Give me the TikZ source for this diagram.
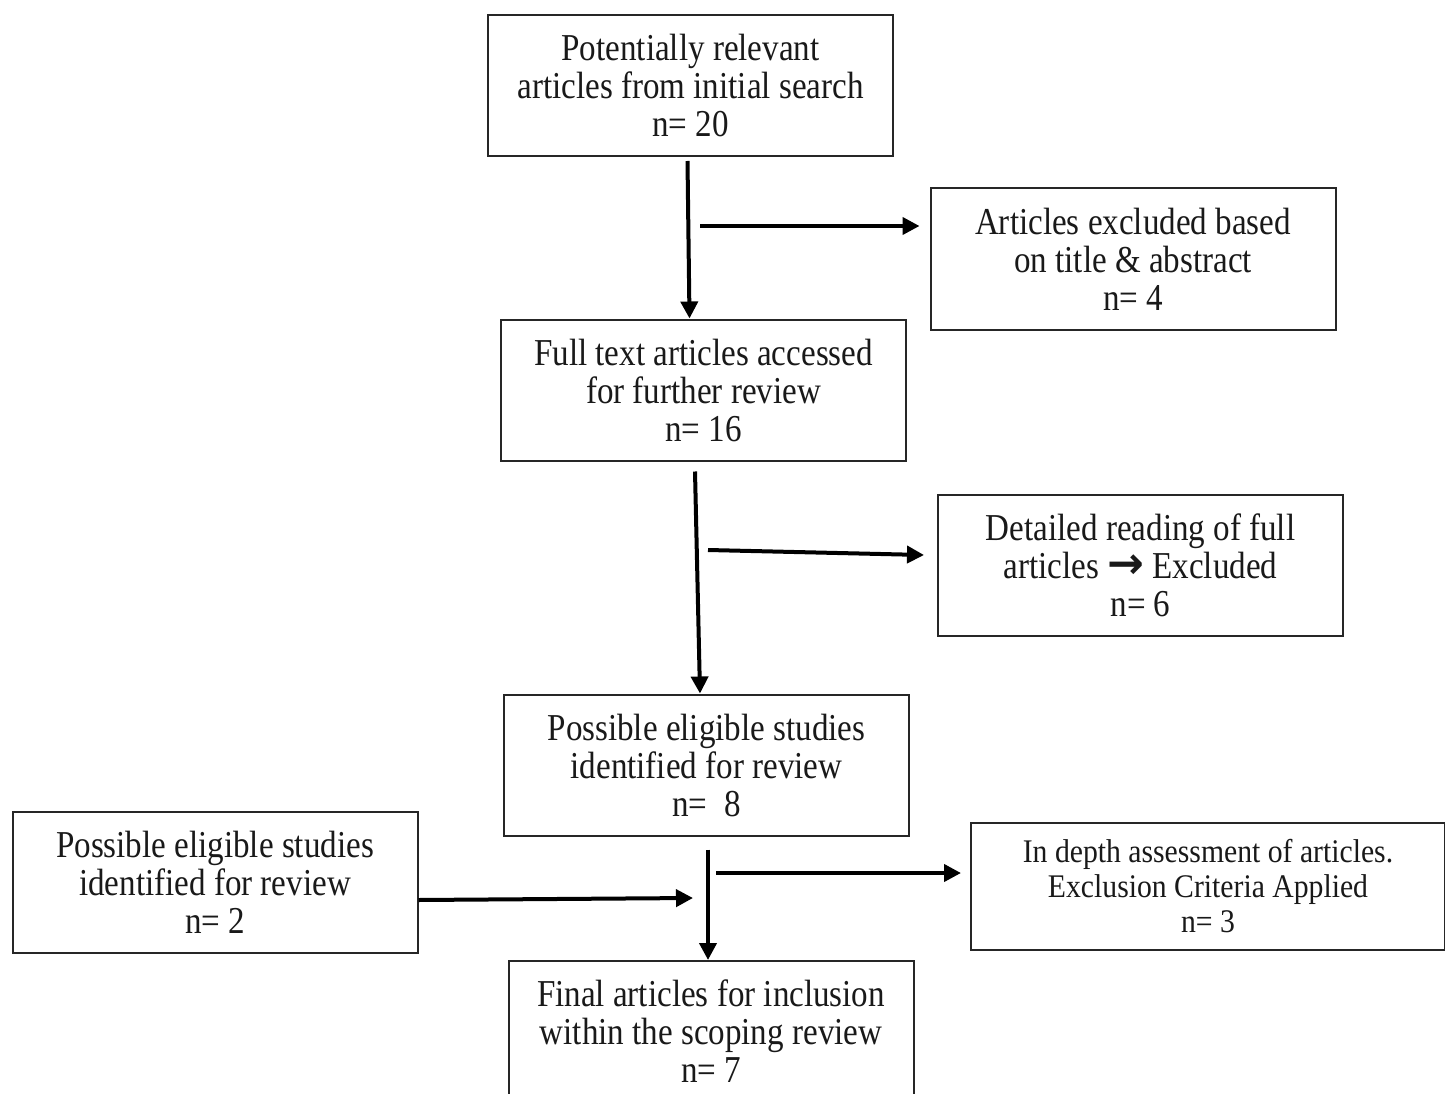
\documentclass[tikz,border=0pt]{standalone}
\usepackage{fontspec}
\usetikzlibrary{arrows.meta,calc}
\newfontfamily\boxfont{Liberation Serif}[FakeStretch=0.87]
\newfontfamily\smallboxfont{Liberation Serif}[FakeStretch=0.9]
\newfontfamily\arrowfont{DejaVu Sans}
\begin{document}
\begin{tikzpicture}[x=1pt,y=-1pt,
  box/.style={draw=black!85,line width=2pt,minimum width=405pt,minimum height=141pt,
    inner sep=0pt,align=center,font=\boxfont\fontsize{38}{38}\selectfont,text=black!90},
  smallbox/.style={box,minimum width=474pt,minimum height=127pt,
    font=\smallboxfont\fontsize{33}{35}\selectfont},
  arr/.style={line width=4pt,-{Triangle[length=17pt,width=17pt]}}]
\useasboundingbox (0,0) rectangle (1445,1094);
\clip (0,0) rectangle (1445,1094);
\fill[white] (0,0) rectangle (1445,1094);

\node[box] (top) at (690.5,85.5) {Potentially relevant\\articles from initial search\\n= 20};
\node[box] (excl) at (1133,259) {Articles excluded based\\on title \& abstract\\n= 4};
\node[box] (full) at (703.5,390) {Full text articles accessed\\for further review\\n= 16};
\node[box] (det) at (1140.5,565.5) {Detailed reading of full\\articles {\arrowfont\bfseries\fontsize{44}{38}\selectfont →} Excluded\\n= 6};
\node[box] (poss) at (706.5,765) {Possible eligible studies\\identified for review\\n=\ \ 8};
\node[box] (left) at (215,882) {Possible eligible studies\\identified for review\\n= 2};
\node[smallbox] (depth) at (1208,886.5) {In depth assessment of articles.\\Exclusion Criteria Applied\\n= 3};
\node[box] (final) at (711,1031.5) {Final articles for inclusion\\within the scoping review\\n= 7};

\coordinate (b1) at (700,226);
\coordinate (b2) at (708,550);
\coordinate (b3) at (716,873);
\coordinate (c1) at (693,898);

\draw[arr] ([xshift=-3pt,yshift=-4pt]top.south) -- ([xshift=-14pt]full.north);
\draw[arr] (b1) -- ([xshift=-10pt]b1 -| excl.west);
\draw[arr] ([xshift=-8.5pt,yshift=-10pt]full.south) -- ([xshift=-6.5pt]poss.north);
\draw[arr] (b2) -- ([xshift=-13pt,yshift=10.5pt]det.west);
\draw[arr] ([xshift=1.5pt,yshift=-13pt]poss.south) -- ([xshift=-3pt]final.north);
\draw[arr] (b3) -- ([xshift=-9pt]b3 -| depth.west);
\draw[arr] ([yshift=-18pt]left.east) -- (c1);
\end{tikzpicture}
\end{document}
